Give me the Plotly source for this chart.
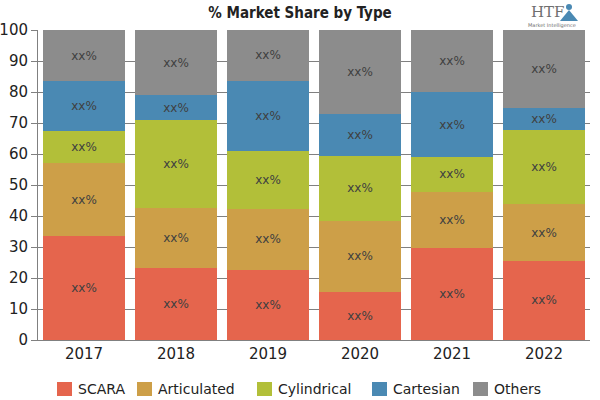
import plotly.graph_objects as go

years = ["2017", "2018", "2019", "2020", "2021", "2022"]
scara = [33.5, 23.3, 22.7, 15.5, 29.8, 25.5]
articulated = [23.5, 19.4, 19.6, 23.0, 18.0, 18.3]
cylindrical = [10.5, 28.3, 18.7, 21.0, 11.2, 24.0]
cartesian = [16.0, 8.0, 22.7, 13.3, 21.0, 7.0]
others = [16.5, 21.0, 16.3, 27.2, 20.0, 25.2]
labels = ["xx%"] * 6

names = ["SCARA", "Articulated", "Cylindrical", "Cartesian", "Others"]
colors = ["#E5654D", "#CD9F48", "#B2BF39", "#4A89B3", "#8C8C8C"]
values = [scara, articulated, cylindrical, cartesian, others]

W, H = 600, 400
ML, MR, MT, MB = 38, 10, 30, 60
PW, PH = W - ML - MR, H - MT - MB

def px_x(p):
    return (p - ML) / PW

def px_y(p):
    return (H - MB - p) / PH

# manual legend layout (pixel positions)
leg_sq_left = [57, 137, 257, 372, 473]
leg_sq_size = 15
leg_top, leg_bottom = 382, 396

fig = go.Figure()
for name, vals, col in zip(names, values, colors):
    fig.add_trace(go.Bar(
        x=years, y=vals, name=name, marker=dict(color=col, line=dict(width=0)),
        text=labels, textposition="inside", insidetextanchor="middle",
        textangle=0, constraintext="none",
        textfont=dict(family="DejaVu Sans", size=12, color="#404040"),
        hoverinfo="skip", showlegend=False,
    ))

shapes = []
annotations = []
for name, col, left in zip(names, colors, leg_sq_left):
    shapes.append(dict(type="rect", xref="paper", yref="paper",
                       x0=px_x(left), x1=px_x(left + leg_sq_size),
                       y0=px_y(leg_bottom), y1=px_y(leg_top),
                       fillcolor=col, line=dict(width=0), layer="above"))
    annotations.append(dict(text=name, xref="paper", yref="paper",
                            x=px_x(left + leg_sq_size + 4), y=px_y((leg_top + leg_bottom) / 2),
                            xanchor="left", yanchor="middle", showarrow=False,
                            font=dict(family="DejaVu Sans", size=14, color="#222222")))

# logo icon (small blue figure)
shapes.append(dict(type="circle", xref="paper", yref="paper",
                   x0=px_x(566), x1=px_x(572), y0=px_y(10), y1=px_y(4),
                   fillcolor="#4A89B3", line=dict(width=0), layer="above"))
shapes.append(dict(type="path", xref="paper", yref="paper",
                   path=f"M {px_x(560)} {px_y(21)} L {px_x(569)} {px_y(10)} L {px_x(578)} {px_y(21)} Z",
                   fillcolor="#4A89B3", line=dict(width=0), layer="above"))

annotations += [
    dict(text="HTF", xref="paper", yref="paper", x=px_x(548), y=px_y(12),
         xanchor="center", yanchor="middle", showarrow=False,
         font=dict(family="DejaVu Serif", size=15, color="#6f6f6f")),
    dict(text="Market Intelligence", xref="paper", yref="paper", x=px_x(552), y=px_y(25),
         xanchor="center", yanchor="middle", showarrow=False,
         font=dict(family="DejaVu Sans", size=5, color="#6f6f6f")),
]

fig.update_layout(
    barmode="stack",
    width=W, height=H,
    margin=dict(l=ML, r=MR, t=MT, b=MB, autoexpand=False),
    paper_bgcolor="white", plot_bgcolor="white",
    bargap=0.11,
    showlegend=False,
    title=dict(text="<b>% Market Share by Type</b>", x=0.5, xanchor="center", y=1 - 13 / H, yanchor="middle",
               font=dict(family="DejaVu Sans Condensed", size=15, color="#222222")),
    xaxis=dict(showline=True, linecolor="#808080", linewidth=1, ticks="", automargin=False,
               tickfont=dict(family="DejaVu Sans", size=15, color="#222222")),
    yaxis=dict(range=[0, 100], dtick=10, showgrid=True, gridcolor="#808080", gridwidth=1,
               showline=True, linecolor="#808080", linewidth=1, ticks="outside", ticklen=6,
               tickcolor="#808080", zeroline=False, automargin=False,
               tickfont=dict(family="DejaVu Sans", size=15, color="#222222")),
    shapes=shapes,
    annotations=annotations,
)

fig.write_html("out.html", config={"displayModeBar": False},
               post_script="document.body.style.margin='0';document.body.style.padding='0';")
